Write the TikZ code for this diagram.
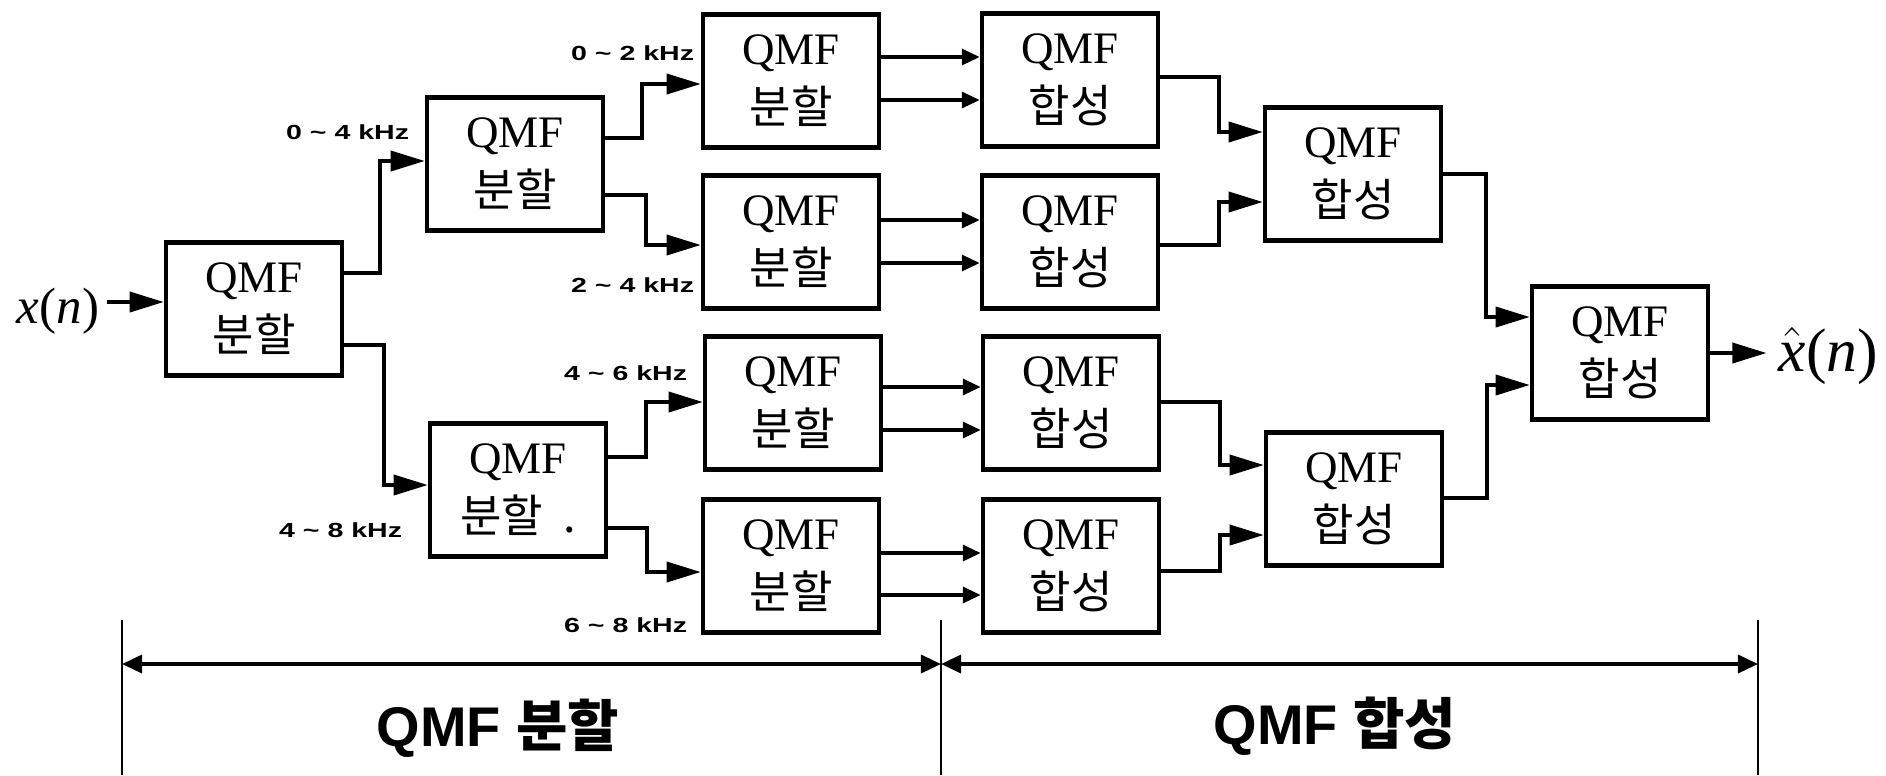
\documentclass[tikz,border=0pt]{standalone}
\usepackage{amsmath}
\usepackage{fontspec}
\setmainfont{Liberation Serif}
\newfontfamily\krfont{Noto Sans CJK KR}
\newfontfamily\bandfont{Liberation Sans}[FakeStretch=1.4]
\newfontfamily\headfont{Liberation Sans}
\usetikzlibrary{calc,arrows.meta}
\newcommand{\qmf}[1]{QMF\\{\krfont #1}}

\begin{document}
\begin{tikzpicture}[x=0.01cm,y=-0.01cm,line width=1.05pt,
  >={Triangle[length=9.7pt,width=5.7pt]},
  small/.style={-{Triangle[length=5.1pt,width=4.5pt]}},
  qmfbox/.style={draw,line width=1.25pt,minimum width=1.76cm,minimum height=1.33cm,
    inner sep=0pt,align=center,font=\fontsize{12.8}{16.8}\selectfont},
  band/.style={anchor=east,inner sep=0pt,font=\bandfont\bfseries\fontsize{5.8}{7}\selectfont},
  head/.style={inner sep=0pt,font=\headfont\bfseries\fontsize{15.9}{18}\selectfont}]
  \useasboundingbox (0,0) rectangle (1886,775);
  % analysis tree
  \node[qmfbox] (A) at (254,309) {\qmf{분할}};
  \node[qmfbox] (B) at (515,164) {\qmf{분할}};
  \node[qmfbox] (C) at (518,490) {\qmf{분할\ \ .}};
  \node[qmfbox] (D) at (791,81) {\qmf{분할}};
  \node[qmfbox] (E) at (791,242) {\qmf{분할}};
  \node[qmfbox] (F) at (793,403) {\qmf{분할}};
  \node[qmfbox] (G) at (791,566) {\qmf{분할}};
  % synthesis tree
  \node[qmfbox] (H1) at (1070,80) {\qmf{합성}};
  \node[qmfbox] (H2) at (1070,242) {\qmf{합성}};
  \node[qmfbox] (H3) at (1071,403) {\qmf{합성}};
  \node[qmfbox] (H4) at (1071,566) {\qmf{합성}};
  \node[qmfbox] (S1) at (1353,174) {\qmf{합성}};
  \node[qmfbox] (S2) at (1354,499) {\qmf{합성}};
  \node[qmfbox] (T) at (1620,353) {\qmf{합성}};
  % input and output
  \node[inner sep=0pt,font=\fontsize{14.5}{16}\selectfont] (xin) at (58,311) {\textit{x}(\textit{n})};
  \node[inner sep=0pt,font=\fontsize{17.5}{19}\selectfont,anchor=west] (xout) at (1777,356) {$\hat{\text{\itshape x}}$(\textit{n})};
  \draw[->] ($(xin.east)+(6,-9)$) coordinate (xi) -- (xi -| A.west);
  \draw[->,shorten >=3pt] (T.east) -- (T.east -| xout.west);
  % band labels
  \node[band] (f04) at (411,132) {0 \textasciitilde{} 4 kHz};
  \node[band] (f48) at (404,530) {4 \textasciitilde{} 8 kHz};
  \node[band] (f02) at (696,53) {0 \textasciitilde{} 2 kHz};
  \node[band] (f24) at (696,285) {2 \textasciitilde{} 4 kHz};
  \node[band] (f46) at (689,373) {4 \textasciitilde{} 6 kHz};
  \node[band] (f68) at (689,625) {6 \textasciitilde{} 8 kHz};
  % splitting stages
  \draw[->] ($(A.east)+(0,-36)$) -| ($(B.west)+(-45,-3)$) -- ($(B.west)+(0,-3)$);
  \draw[->] ($(A.east)+(0,36)$) -| ($(C.west)+(-44,-5)$) -- ($(C.west)+(0,-5)$);
  \draw[->] ($(B.east)+(0,-26)$) -| ($(D.west)+(-59,3)$) -- ($(D.west)+(0,3)$);
  \draw[->] ($(B.east)+(0,31)$) -| ($(E.west)+(-55,3)$) -- ($(E.west)+(0,3)$);
  \draw[->] ($(C.east)+(0,-33)$) -| ($(F.west)+(-57,-1)$) -- ($(F.west)+(0,-1)$);
  \draw[->] ($(C.east)+(0,38)$) -| ($(G.west)+(-54,6)$) -- ($(G.west)+(0,6)$);
  % subbands straight across
  \draw[small] ($(D.east)+(0,-24)$) coordinate (d1) -- (d1 -| H1.west);
  \draw[small] ($(D.east)+(0,19)$) coordinate (d2) -- (d2 -| H1.west);
  \draw[small] ($(E.east)+(0,-22)$) coordinate (e1) -- (e1 -| H2.west);
  \draw[small] ($(E.east)+(0,21)$) coordinate (e2) -- (e2 -| H2.west);
  \draw[small] ($(F.east)+(0,-16)$) coordinate (f1) -- (f1 -| H3.west);
  \draw[small] ($(F.east)+(0,27)$) coordinate (f2) -- (f2 -| H3.west);
  \draw[small] ($(G.east)+(0,-13)$) coordinate (g1) -- (g1 -| H4.west);
  \draw[small] ($(G.east)+(0,29)$) coordinate (g2) -- (g2 -| H4.west);
  % merging stages
  \draw[->] ($(H1.east)+(0,-3)$) -| ($(S1.west)+(-44,-42)$) -- ($(S1.west)+(0,-42)$);
  \draw[->] ($(H2.east)+(0,3)$) -| ($(S1.west)+(-44,28)$) -- ($(S1.west)+(0,28)$);
  \draw[->] ($(H3.east)+(0,-1)$) -| ($(S2.west)+(-44,-34)$) -- ($(S2.west)+(0,-34)$);
  \draw[->] ($(H4.east)+(0,5)$) -| ($(S2.west)+(-44,36)$) -- ($(S2.west)+(0,36)$);
  \draw[->] (S1.east) -| ($(T.west)+(-44,-36)$) -- ($(T.west)+(0,-36)$);
  \draw[->] ($(S2.east)+(0,-1)$) -| ($(T.west)+(-43,32)$) -- ($(T.west)+(0,32)$);
  % bottom ranges
  \coordinate (bL) at (122,620);
  \coordinate (bM) at (941,620);
  \coordinate (bR) at (1758,620);
  \foreach \c in {bL,bM,bR} \draw[line width=0.6pt] (\c) -- ++(0,155);
  \draw[{Triangle[length=5.7pt,width=5.1pt]}-{Triangle[length=5.7pt,width=5.1pt]}] ($(bL)+(0,44)$) -- ($(bM)+(0,44)$);
  \draw[{Triangle[length=5.7pt,width=5.1pt]}-{Triangle[length=5.7pt,width=5.1pt]}] ($(bM)+(0,44)$) -- ($(bR)+(0,44)$);
  \node[head] (hsplit) at (498,728) {QMF {\krfont 분할}};
  \node[head] (hsynth) at (1335,726) {QMF {\krfont 합성}};
\end{tikzpicture}
\end{document}
